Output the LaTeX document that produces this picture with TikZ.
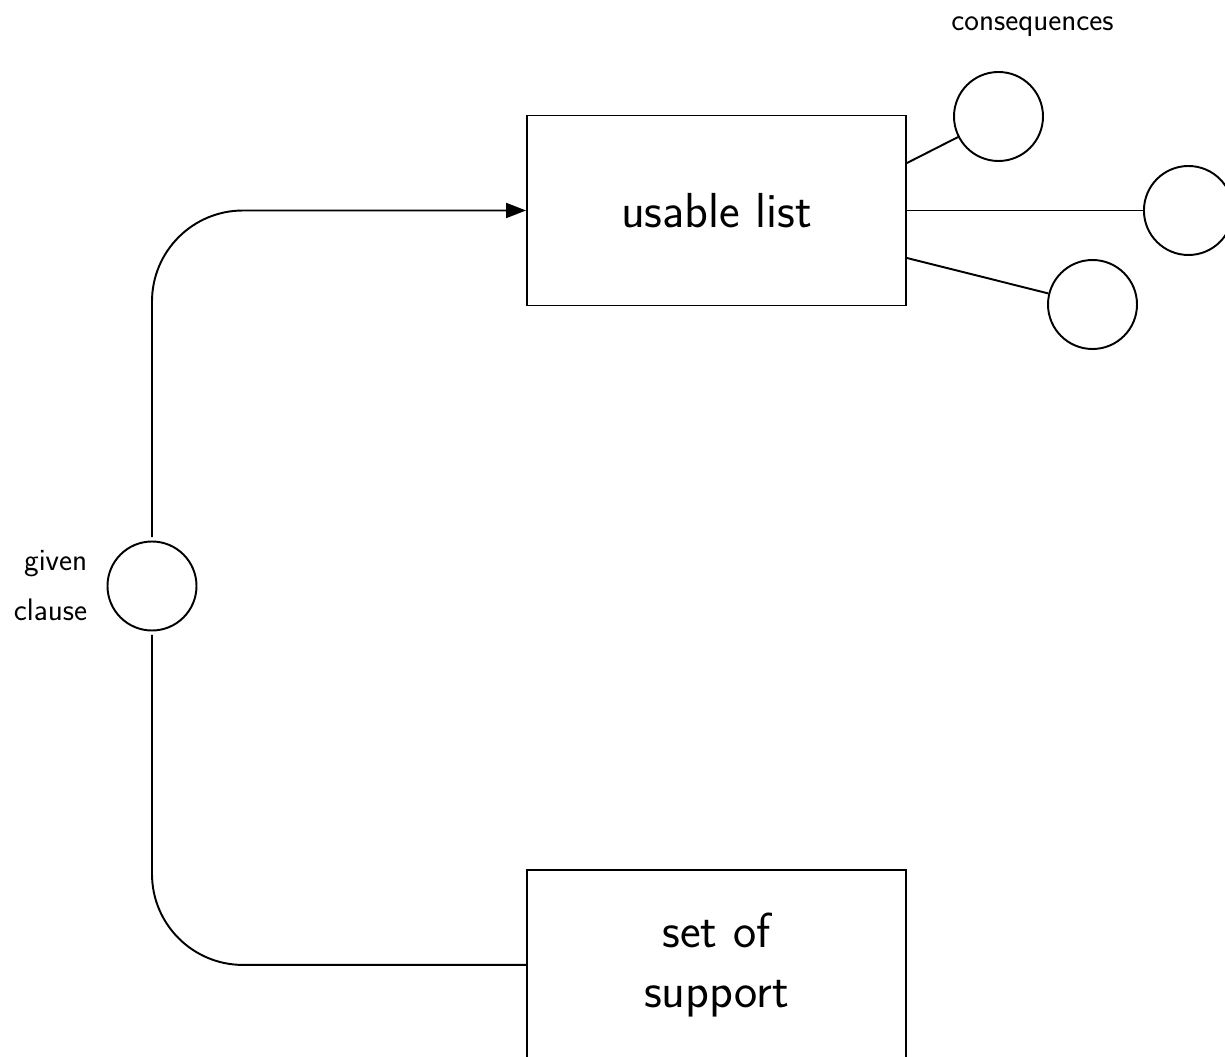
\documentclass[tikz,border=0pt]{standalone}
\usepackage{tikz}
\usetikzlibrary{positioning, arrows.meta}

\begin{document}
\begin{tikzpicture}[
            node distance = 1cm,
            listbox/.style = {draw, line width=1.1pt, minimum width=7.58cm, minimum height=3.8cm, align=center, font=\sffamily\fontsize{28}{34}\selectfont},
            clause/.style = {draw, shape=circle, line width=1.1pt, minimum size=1.78cm, inner sep=0pt},
            note/.style = {inner sep=0pt, align=right, font=\sffamily\fontsize{17.7}{28.5}\selectfont},
            line/.style = {draw, line width=1.1pt, -{Triangle[length=4mm, width=3mm]}},
            link/.style = {draw, line width=1.1pt},
            ]
            \useasboundingbox (0,0) rectangle (24.5,-21.14);
            \node[listbox] (usable) at (14.33,-4.21) {usable list};
            \node[listbox, below=11.25cm of usable] (sos) {set of\\support};
            \node[clause] (given) at (3.04,-11.72) {};
            \node[note, left=0.38cm of given] (givenlabel) {given\\clause};
            \node[clause] (c1) at (19.97,-2.33) {};
            \node[clause, right=4.72cm of usable] (c2) {};
            \node[clause] (c3) at (21.85,-6.09) {};
            \node[note, align=center] (conslabel) at (20.65,-0.53) {consequences};

            \draw[line, rounded corners=1.82cm, shorten <=2pt] (given.north) |- (usable.west);
            \draw[link, rounded corners=1.82cm, shorten <=2pt] (given.south) |- (sos.west);
            \draw[link] ([yshift=0.95cm]usable.east) -- (c1);
            \draw[link] (usable.east) -- (c2);
            \draw[link] ([yshift=-0.95cm]usable.east) -- (c3);
        \end{tikzpicture}
\end{document}
